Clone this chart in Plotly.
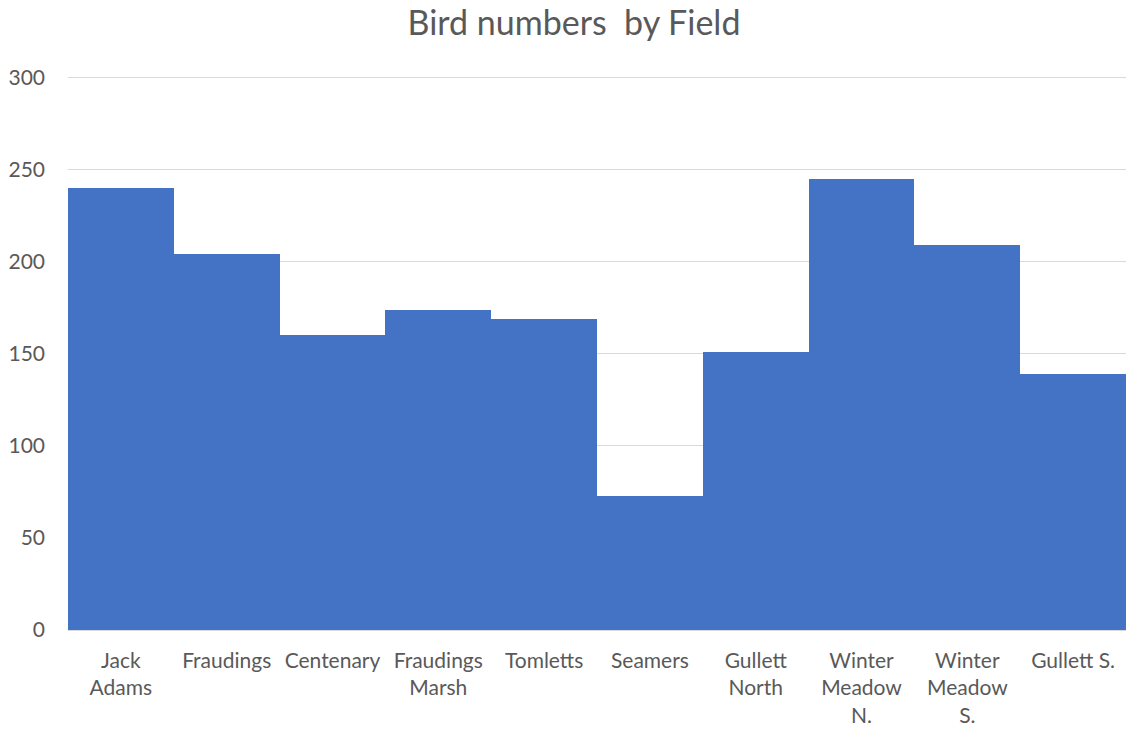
import plotly.graph_objects as go

categories = ["Jack<br>Adams", "Fraudings", "Centenary", "Fraudings<br>Marsh", "Tomletts",
              "Seamers", "Gullett<br>North", "Winter<br>Meadow<br>N.", "Winter<br>Meadow<br>S.", "Gullett S."]
bird_counts = [240, 204, 160, 174, 169, 73, 151, 245, 209, 139]
y_ticks = [0, 50, 100, 150, 200, 250, 300]

fig = go.Figure(go.Bar(
    x=categories, y=bird_counts,
    marker=dict(color="#4472C4", line=dict(width=0)),
))

W, H = 1127, 731
font_family = "Lato, 'Open Sans', sans-serif"
fig.update_layout(
    width=W, height=H,
    paper_bgcolor="white", plot_bgcolor="white",
    margin=dict(l=68, r=1, t=72, b=H - 630, autoexpand=False),
    bargap=0,
    showlegend=False,
    title=dict(text="Bird numbers  by Field", x=574 / W, xref="container", xanchor="center",
               y=1 - 23 / H, yref="container", yanchor="middle",
               font=dict(family=font_family, size=34, color="#595959")),
    font=dict(family=font_family, size=21, color="#595959"),
)
fig.update_xaxes(showgrid=False, showline=False, ticks="", tickangle=0, automargin=False,
                 ticklabelstandoff=16, tickfont=dict(size=21, color="#595959"))
fig.update_yaxes(range=[0, 303], tickvals=y_ticks, showgrid=True, gridcolor="#D9D9D9", gridwidth=1,
                 zeroline=True, zerolinecolor="#D9D9D9", zerolinewidth=1, showline=False, ticks="",
                 automargin=False, ticklabelstandoff=22, tickfont=dict(size=21, color="#595959"))

post = ("document.body.style.margin='0';"
        "var gd=document.getElementById('{plot_id}');"
        "gd.style.width='1127px';gd.style.height='731px';"
        "Plotly.relayout(gd,{width:1127,height:731});")
fig.write_html("out.html", post_script=post, config={"responsive": False, "displayModeBar": False})
